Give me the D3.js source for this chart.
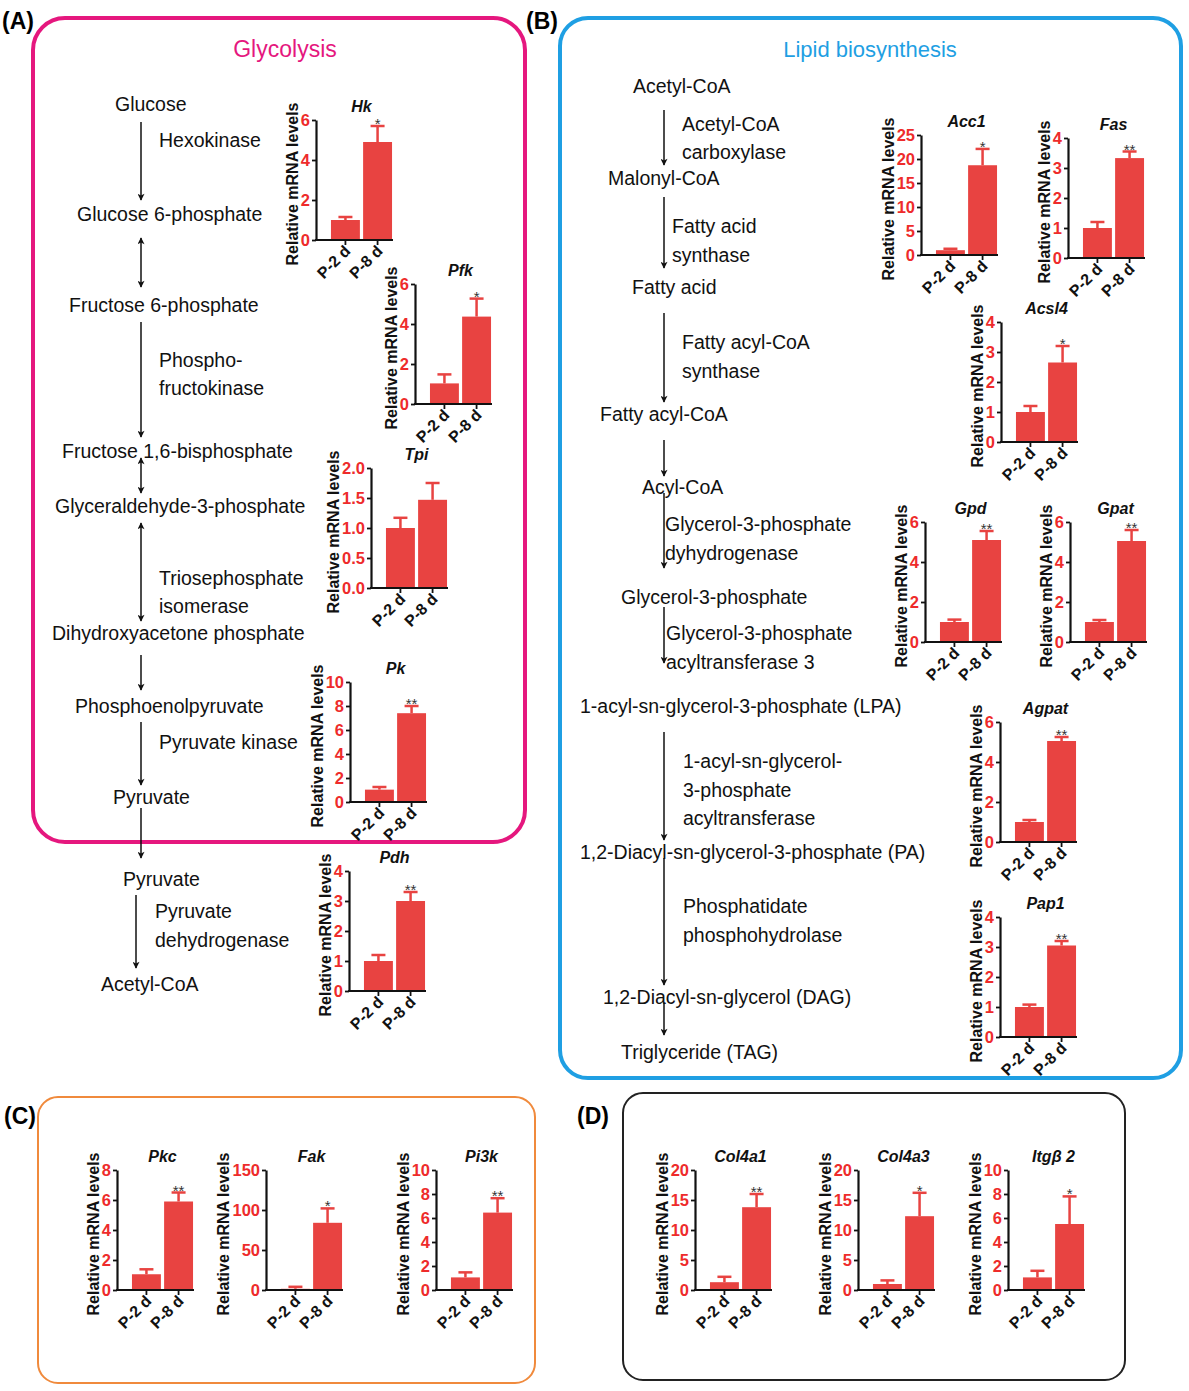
<!DOCTYPE html>
<html>
<head>
<meta charset="utf-8">
<script src="https://cdn.jsdelivr.net/npm/d3@7"></script>
<style>
body { margin: 0; background: #fff; }
svg text { font-family: Arial, "Liberation Sans", Helvetica, sans-serif; }
</style>
</head>
<body>
<svg id="fig" width="1189" height="1391"></svg>
<script>
// ---- data ----
var groups = ["P-2 d", "P-8 d"];
var genes = ["Hk", "Pfk", "Tpi", "Pk", "Pdh",
             "Acc1", "Fas", "Acsl4", "Gpd", "Gpat", "Agpat", "Pap1",
             "Pkc", "Fak", "Pi3k",
             "Col4a1", "Col4a3", "Itg\u03b2 2"];
var meanP2 = [1.0, 1.03, 1.0, 1.03, 1.0,
              1.0, 1.0, 1.0, 1.0, 1.0, 1.0, 1.0,
              1.05, 1.5, 1.05,
              1.3, 1.0, 1.05];
var errP2  = [0.15, 0.45, 0.17, 0.22, 0.2,
              0.3, 0.2, 0.2, 0.12, 0.1, 0.1, 0.08,
              0.33, 2.5, 0.42,
              0.9, 0.6, 0.55];
var meanP8 = [4.9, 4.37, 1.47, 7.4, 3.0,
              18.7, 3.33, 2.65, 5.1, 5.05, 5.05, 3.05,
              5.9, 84, 6.45,
              13.8, 12.3, 5.5];
var errP8  = [0.8, 0.9, 0.28, 0.6, 0.3,
              3.4, 0.22, 0.55, 0.45, 0.55, 0.2, 0.15,
              0.6, 18, 1.2,
              2.2, 3.9, 2.3];
var stars  = ["*", "*", "", "**", "**",
              "*", "**", "*", "**", "**", "**", "**",
              "**", "*", "**",
              "**", "*", "*"];
var yMax   = [6, 6, 2, 10, 4, 25, 4, 4, 6, 6, 6, 4, 8, 150, 10, 20, 20, 10];
var yStep  = [2, 2, 0.5, 2, 1, 5, 1, 1, 2, 2, 2, 1, 2, 50, 2, 5, 5, 2];

// ---- layout (axis origin x, top of y axis) ----
var chartPos = [[316,120],[415,284],[371,468],[350,682],[349,871],
                [921,135],[1068,138],[1001,322],[925,522],[1070,522],[1000,722],[1000,917],
                [117,1170],[266,1170],[436,1170],
                [695,1170],[858,1170],[1008,1170]];

var pathA = [["Glucose",115,104],["Hexokinase",159,140],["Glucose 6-phosphate",77,214],
  ["Fructose 6-phosphate",69,305],["Phospho-",159,360],["fructokinase",159,388],
  ["Fructose 1,6-bisphosphate",62,451],["Glyceraldehyde-3-phosphate",55,506],
  ["Triosephosphate",159,578],["isomerase",159,606],["Dihydroxyacetone phosphate",52,633],
  ["Phosphoenolpyruvate",75,706],["Pyruvate kinase",159,742],["Pyruvate",113,797],
  ["Pyruvate",123,879],["Pyruvate",155,911],["dehydrogenase",155,940],["Acetyl-CoA",101,984]];
var arrowsA = [[141,122,200,0],[141,238,287,1],[141,322,437,0],[141,458,493,1],[141,523,621,1],
  [141,655,690,0],[141,722,785,0],[141,808,858,0],[136,895,968,0]];

var pathB = [["Acetyl-CoA",633,86],["Acetyl-CoA",682,124],["carboxylase",682,152],
  ["Malonyl-CoA",608,178],["Fatty acid",672,226],["synthase",672,255],["Fatty acid",632,287],
  ["Fatty acyl-CoA",682,342],["synthase",682,371],["Fatty acyl-CoA",600,414],["Acyl-CoA",642,487],
  ["Glycerol-3-phosphate",665,524],["dyhydrogenase",665,553],["Glycerol-3-phosphate",621,597],
  ["Glycerol-3-phosphate",666,633],["acyltransferase 3",666,662],
  ["1-acyl-sn-glycerol-3-phosphate (LPA)",580,706],["1-acyl-sn-glycerol-",683,761],
  ["3-phosphate",683,790],["acyltransferase",683,818],
  ["1,2-Diacyl-sn-glycerol-3-phosphate (PA)",580,852],["Phosphatidate",683,906],
  ["phosphohydrolase",683,935],["1,2-Diacyl-sn-glycerol (DAG)",603,997],["Triglyceride (TAG)",621,1052]];
var arrowsB = [[664,110,165,0],[664,197,268,0],[664,313,402,0],[664,440,476,0],[664,493,568,0],
  [664,607,663,0],[664,732,840,0],[664,858,985,0],[664,1003,1035,0]];

var barColor = "#e84341";
var tickRed = "#ee2b2b";

var svg = d3.select("#fig");
svg.append("rect").attr("width", 1189).attr("height", 1391).attr("fill", "#fff");

var defs = svg.append("defs");
defs.append("marker")
  .attr("id", "ah")
  .attr("viewBox", "0 0 10 10")
  .attr("refX", 9).attr("refY", 5)
  .attr("markerUnits", "userSpaceOnUse")
  .attr("markerWidth", 9).attr("markerHeight", 7)
  .attr("orient", "auto-start-reverse")
  .append("path").attr("d", "M0,0 L10,5 L0,10 L2.5,5 z").attr("fill", "#111");

// panel boxes
function box(x, y, w, h, r, col, sw) {
  svg.append("rect").attr("x", x).attr("y", y).attr("width", w).attr("height", h)
    .attr("rx", r).attr("ry", r).attr("fill", "none").attr("stroke", col).attr("stroke-width", sw);
}
box(33, 18, 492, 824, 32, "#e5177e", 4);
box(560, 18, 621, 1060, 28, "#1f9fe3", 4);
box(38, 1097, 497, 286, 20, "#f08a3c", 2);
box(623, 1093, 502, 287, 20, "#222", 2);

function panelLabel(t, x, y) {
  svg.append("text").attr("x", x).attr("y", y).text(t)
    .style("font-size", "23px").style("font-weight", "bold");
}
panelLabel("(A)", 2, 29);
panelLabel("(B)", 526, 29);
panelLabel("(C)", 4, 1124);
panelLabel("(D)", 577, 1124);

svg.append("text").attr("x", 285).attr("y", 57).attr("text-anchor", "middle")
  .text("Glycolysis").style("font-size", "23px").attr("fill", "#e5177e");
svg.append("text").attr("x", 870).attr("y", 57).attr("text-anchor", "middle")
  .text("Lipid biosynthesis").style("font-size", "22px").attr("fill", "#1f9fe3");

// pathway text and arrows
function pathway(items, arrows) {
  svg.append("g").selectAll("text").data(items).join("text")
    .attr("x", function(d) { return d[1]; })
    .attr("y", function(d) { return d[2] + 7; })
    .text(function(d) { return d[0]; })
    .style("font-size", "19.5px").attr("fill", "#111");
  svg.append("g").selectAll("line").data(arrows).join("line")
    .attr("x1", function(d) { return d[0]; }).attr("x2", function(d) { return d[0]; })
    .attr("y1", function(d) { return d[1]; }).attr("y2", function(d) { return d[2]; })
    .attr("stroke", "#111").attr("stroke-width", 1.5)
    .attr("marker-end", "url(#ah)")
    .attr("marker-start", function(d) { return d[3] ? "url(#ah)" : null; });
}
pathway(pathA, arrowsA);
pathway(pathB, arrowsB);

// one small bar chart
function drawChart(i) {
  var w = 77, h = 120;
  var g = svg.append("g").attr("transform", "translate(" + chartPos[i][0] + "," + chartPos[i][1] + ")");
  var y = d3.scaleLinear().domain([0, yMax[i]]).range([h, 0]);
  var x = d3.scaleBand().domain(groups).range([14, w]).paddingInner(0.1).paddingOuter(0.03);
  var vals = [meanP2[i], meanP8[i]];
  var errs = [errP2[i], errP8[i]];

  // error bars (upper only), behind the bars
  var eb = g.append("g");
  eb.selectAll("line.v").data(groups).join("line")
    .attr("x1", function(d) { return x(d) + x.bandwidth() / 2; })
    .attr("x2", function(d) { return x(d) + x.bandwidth() / 2; })
    .attr("y1", function(d, j) { return y(vals[j]); })
    .attr("y2", function(d, j) { return y(vals[j] + errs[j]); })
    .attr("stroke", barColor).attr("stroke-width", 2.5);
  eb.selectAll("line.c").data(groups).join("line")
    .attr("x1", function(d) { return x(d) + x.bandwidth() / 2 - 7; })
    .attr("x2", function(d) { return x(d) + x.bandwidth() / 2 + 7; })
    .attr("y1", function(d, j) { return y(vals[j] + errs[j]); })
    .attr("y2", function(d, j) { return y(vals[j] + errs[j]); })
    .attr("stroke", barColor).attr("stroke-width", 2.5);

  g.selectAll("rect.bar").data(groups).join("rect")
    .attr("x", function(d) { return x(d); })
    .attr("width", x.bandwidth())
    .attr("y", function(d, j) { return y(vals[j]); })
    .attr("height", function(d, j) { return h - y(vals[j]); })
    .attr("fill", barColor);

  // significance stars above P-8 d
  g.append("text")
    .attr("x", x(groups[1]) + x.bandwidth() / 2)
    .attr("y", y(vals[1] + errs[1]) + 3)
    .attr("text-anchor", "middle")
    .text(stars[i]).style("font-size", "15px").attr("fill", "#333");

  // y axis
  var ticks = d3.range(0, yMax[i] + yStep[i] / 2, yStep[i]);
  var fmt = yStep[i] < 1 ? d3.format(".1f") : d3.format("d");
  var ya = g.append("g")
    .call(d3.axisLeft(y).tickValues(ticks).tickFormat(fmt).tickSize(4).tickSizeOuter(0).tickPadding(2));
  ya.select(".domain").attr("stroke", "#111").attr("stroke-width", 2.2);
  ya.selectAll(".tick line").attr("stroke", "#111").attr("stroke-width", 1.8);
  ya.selectAll(".tick text").attr("fill", tickRed)
    .style("font-size", "16.5px").style("font-weight", "bold")
    .style("font-family", "Arial, 'Liberation Sans', sans-serif");

  // x axis
  var xa = g.append("g").attr("transform", "translate(0," + h + ")")
    .call(d3.axisBottom(x).tickSize(5).tickSizeOuter(0));
  xa.select(".domain").remove();
  xa.append("line").attr("x1", -1).attr("x2", w).attr("stroke", "#111").attr("stroke-width", 2.2);
  xa.selectAll(".tick line").attr("stroke", "#111").attr("stroke-width", 1.8);
  xa.selectAll(".tick text")
    .attr("x", null).attr("y", null).attr("dy", null)
    .attr("text-anchor", "end")
    .attr("transform", "translate(6,12) rotate(-45)")
    .attr("fill", "#111")
    .style("font-size", "16px").style("font-weight", "bold")
    .style("font-family", "Arial, 'Liberation Sans', sans-serif");

  // y title
  var bb = ya.node().getBBox();
  g.append("text")
    .attr("transform", "translate(" + (bb.x - 3) + "," + (h / 2 + 4) + ") rotate(-90)")
    .attr("text-anchor", "middle")
    .text("Relative mRNA levels")
    .style("font-size", "16px").style("font-weight", "bold").attr("fill", "#111");

  // gene title
  g.append("text")
    .attr("x", (x.range()[0] + x.range()[1]) / 2)
    .attr("y", -8)
    .attr("text-anchor", "middle")
    .text(genes[i])
    .style("font-size", "16px").style("font-weight", "bold").style("font-style", "italic")
    .attr("fill", "#111");
}

for (var i = 0; i < genes.length; i++) {
  drawChart(i);
}
</script>
</body>
</html>
